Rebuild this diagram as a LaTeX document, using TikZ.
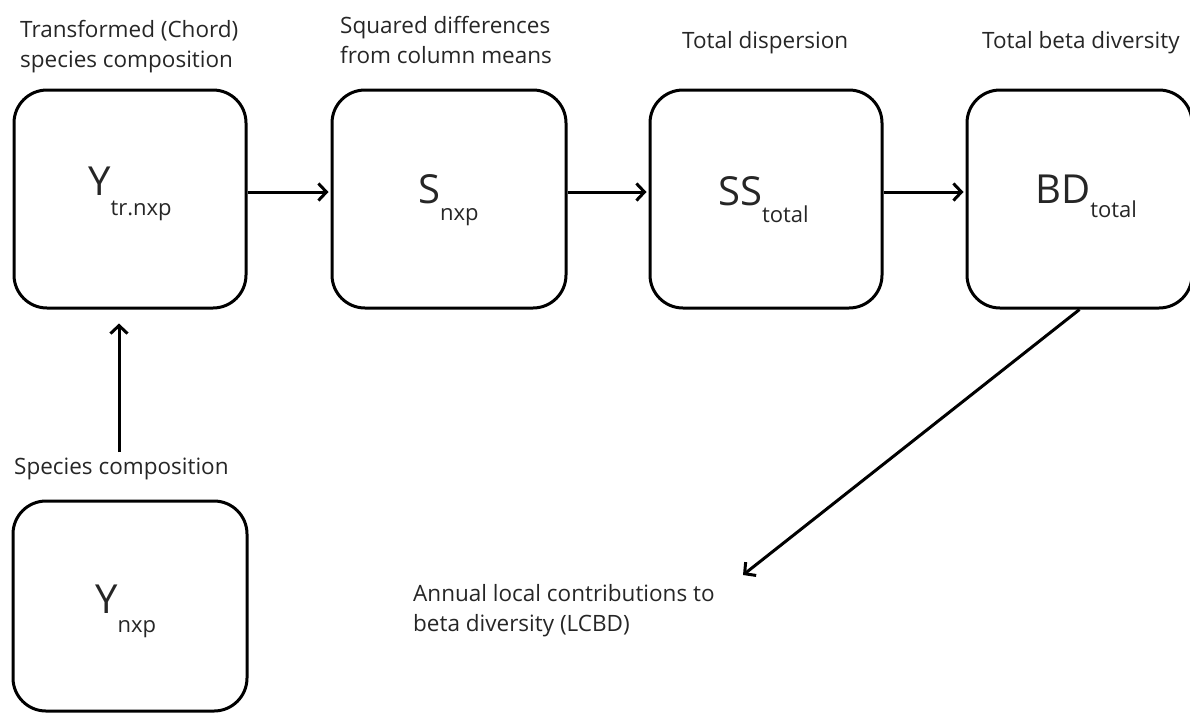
\documentclass[tikz,border=0pt]{standalone}
\usepackage{fontspec}
\setmainfont{Open Sans}
\usetikzlibrary{arrows.meta}
\begin{document}
\begin{tikzpicture}[x=1pt,y=-1pt,
  box/.style={draw=black, line width=3pt, rounded corners=33pt, inner sep=0pt},
  lbl/.style={inner sep=0pt, anchor=base west, align=left, font=\fontsize{22.5}{30}\selectfont, text=black!85},
  sym/.style={inner sep=0pt, anchor=base west, font=\fontsize{40}{40}\selectfont, text=black!85},
  arr/.style={line width=3pt, -{Straight Barb[length=8pt,width=17pt,line width=3pt]}}
]
\useasboundingbox (0,0) rectangle (1190,713);
% boxes
\node[box, minimum width=232pt, minimum height=218pt] (b1) at (130,199) {};
\node[box, minimum width=234pt, minimum height=218pt] (b2) at (449,199) {};
\node[box, minimum width=232pt, minimum height=218pt] (b3) at (766,199) {};
\node[box, minimum width=225pt, minimum height=218pt] (b4) at (1079.5,199) {};
\node[box, minimum width=234pt, minimum height=210pt] (b5) at (130,606) {};
% symbols
\newcommand{\subtxt}[2]{\raisebox{-#1pt}{\fontsize{22}{22}\selectfont #2}}
\node[sym] (s1) at (88,195) {Y\subtxt{20}{tr.nxp}};
\node[sym] (s2) at (418,203) {S\subtxt{17}{nxp}};
\node[sym] (s3) at (718,205) {SS\subtxt{17}{total}};
\node[sym] (s4) at (1035,203) {BD\subtxt{14}{total}};
\node[sym] (s5) at (95,613) {Y\subtxt{19}{nxp}};
% labels (base = baseline of last line)
\node[lbl] (l1) at (20,67) {Transformed (Chord)\\species composition};
\node[lbl] (l2) at (340,63) {Squared differences\\from column means};
\node[lbl] (l3) at (682,48) {Total dispersion};
\node[lbl] (l4) at (982,48) {Total beta diversity};
\node[lbl] (l5) at (14,474) {Species composition};
\node[lbl] (l6) at (413,631) {Annual local contributions to\\beta diversity (LCBD)};
% arrows
\draw[arr, shorten >=2pt] ([yshift=7pt]b1.east) -- ([yshift=7pt]b2.west);
\draw[arr, shorten >=2pt] ([yshift=7pt]b2.east) -- ([yshift=7pt]b3.west);
\draw[arr, shorten >=2pt] ([yshift=7pt]b3.east) -- ([yshift=7pt]b4.west);
\coordinate (v0) at (119,452);
\draw[arr, shorten >=14pt] (v0) -- (v0 |- b1.south);
\coordinate (dt) at (743,575);
\draw[arr] (b4.south) -- (dt);
\end{tikzpicture}
\end{document}
